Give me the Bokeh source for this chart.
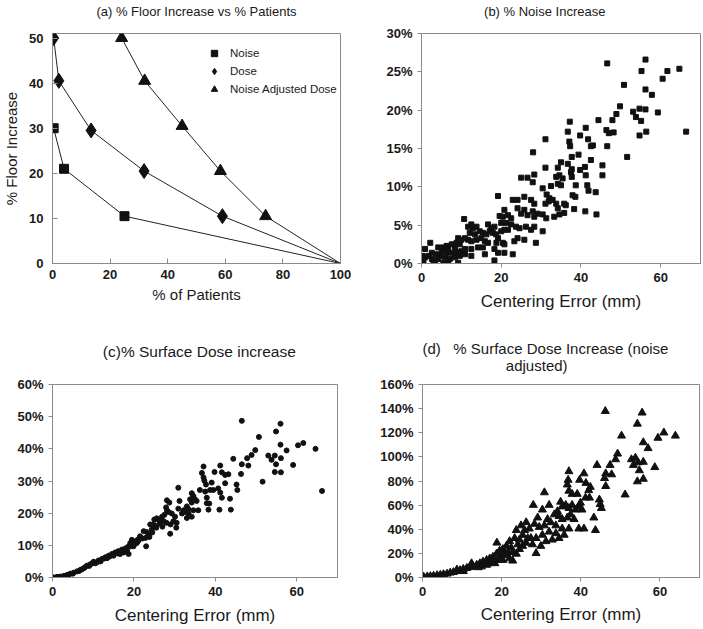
from bokeh.plotting import figure
from bokeh.layouts import column, row
from bokeh.models import (Range1d, FixedTicker, PrintfTickFormatter, Legend,
                          LegendItem, Title, LinearAxis)
from bokeh.embed import file_html
from bokeh.resources import INLINE

FONT = "Liberation Sans"
INK = "#111111"
FRAME = "#8a8a8a"
TXT = "#1a1a1a"
NB = "\u00a0"

# ---------------- (a) % Floor Increase vs % Patients ----------------
a_x_ticks = [0, 20, 40, 60, 80, 100]
a_y_ticks = [0, 10, 20, 30, 40, 50]
noise_pat = [0.4, 4.0, 25.0, 100]
noise_floor = [30.0, 21.0, 10.5, 0]
dose_pat = [0.4, 2.2, 13.4, 31.8, 59.0, 100]
dose_floor = [50.0, 40.5, 29.5, 20.5, 10.5, 0]
nad_pat = [24.0, 32.0, 45.0, 58.3, 74.0, 100]
nad_floor = [50.0, 40.5, 30.5, 20.5, 10.5, 0]

# ---------------- shared scatter axes ----------------
err_ticks = [0, 20, 40, 60]
b_y_ticks = [0, 5, 10, 15, 20, 25, 30]
c_y_ticks = [0, 10, 20, 30, 40, 50, 60]
d_y_ticks = [0, 20, 40, 60, 80, 100, 120, 140, 160]

# ---------------- (b) % Noise Increase ----------------
b_x = [46.6, 56.2, 55.2, 61.7, 64.7, 60.5, 50.8, 56.2, 57.8, 49.8,
       53.1, 54.7, 56.2, 53.8, 55.1, 59.3, 44.4, 37.2, 47.9, 48.9,
       41.2, 36.7, 46.4, 47.0, 48.2, 39.8, 41.8, 54.7, 56.4, 66.4,
       31.1, 37.1, 42.5, 43.0, 37.3, 46.6, 37.7, 39.4, 42.5, 51.6,
       31.1, 34.2, 35.0, 36.7, 37.7, 37.5, 39.8, 41.0, 45.4, 45.4,
       34.6, 35.4, 33.8, 34.2, 35.0, 37.7, 41.2, 38.7, 41.6, 41.9,
       43.7, 30.4, 32.5, 31.4, 32.1, 32.9, 31.9, 31.1, 33.8, 34.2,
       35.8, 36.2, 37.9, 38.6, 38.3, 41.1, 43.9, 33.3, 34.6, 35.8,
       30.4, 31.3,
       28.0, 26.6, 28.3, 25.0, 27.9, 19.2, 24.1, 22.9, 25.8, 27.5,
       28.3, 20.8, 19.6, 20.4, 21.7, 22.5, 24.1, 25.0, 25.8, 26.6,
       27.9, 28.3, 29.1, 10.7, 11.7, 12.5, 12.9, 13.8, 16.7, 17.5,
       18.3, 20.0, 21.2, 22.5, 23.7, 24.6, 26.2, 28.3, 12.1, 13.4,
       14.6, 15.4, 16.3, 17.1, 17.9, 18.7, 19.2, 20.0, 20.8, 21.7,
       24.1, 25.8, 9.2, 10.0, 10.9, 11.7, 12.5, 13.8, 15.0, 15.9,
       16.7, 18.8, 20.4, 23.3, 27.5, 30.4, 28.7, 8.8, 9.6, 7.6,
       8.4, 6.3, 6.7, 5.5, 4.2, 5.1, 6.3, 7.6, 8.8, 10.0,
       10.9, 12.5, 14.2, 15.4, 18.3, 20.8, 15.9, 19.2, 20.8, 22.9,
       18.3, 2.2, 0.9, 2.6, 3.8, 4.6, 1.8, 0.3, 0.9, 0.5,
       2.6, 3.4, 4.2, 5.9, 7.1, 8.4, 9.6, 10.9, 12.5, 3.0,
       5.5, 6.7, 9.2, 0.3]
b_y = [26.1, 26.6, 25.1, 25.1, 25.4, 24.1, 23.3, 22.7, 22.0, 20.5,
       19.8, 20.2, 20.1, 19.1, 18.6, 19.7, 18.7, 18.5, 18.7, 19.5,
       17.7, 17.2, 17.4, 17.0, 17.1, 16.7, 16.2, 16.7, 17.2, 17.2,
       16.2, 15.9, 15.3, 15.4, 15.3, 15.3, 13.9, 14.2, 13.5, 13.9,
       12.5, 12.5, 13.2, 13.0, 12.3, 11.9, 12.2, 12.6, 12.8, 11.5,
       11.5, 11.1, 11.3, 10.4, 10.2, 11.3, 11.5, 10.2, 10.2, 9.5,
       9.3, 9.8, 10.1, 9.0, 8.5, 8.3, 8.1, 7.8, 7.8, 7.2,
       7.8, 7.6, 8.9, 8.7, 7.1, 6.8, 6.4, 6.1, 6.4, 6.6,
       6.4, 5.9,
       14.5, 11.2, 11.6, 11.2, 10.6, 8.8, 8.3, 8.3, 8.7, 8.3,
       7.8, 7.0, 6.2, 6.1, 6.3, 5.9, 7.2, 6.5, 7.0, 6.3,
       6.8, 6.1, 6.5, 5.8, 4.8, 5.1, 4.6, 4.8, 5.1, 4.6,
       4.8, 5.3, 5.3, 5.1, 4.8, 4.6, 4.8, 4.8, 4.0, 3.8,
       4.2, 4.0, 3.8, 4.2, 4.0, 3.8, 3.3, 4.2, 4.4, 4.4,
       3.3, 3.1, 3.3, 3.1, 3.3, 3.1, 2.9, 3.1, 3.3, 2.9,
       2.7, 2.7, 2.7, 2.9, 4.4, 4.2, 2.7, 2.7, 2.5, 2.5,
       2.1, 2.3, 1.9, 2.1, 2.1, 1.6, 1.4, 1.4, 1.5, 1.6,
       1.9, 1.9, 2.1, 2.1, 1.9, 2.5, 1.2, 1.4, 1.4, 1.2,
       0.4, 2.7, 1.9, 1.4, 1.2, 1.0, 1.0, 1.0, 0.8, 0.4,
       0.6, 0.4, 0.6, 0.8, 0.6, 0.8, 1.0, 1.2, 1.0, 0.1,
       0.1, 0.1, 0.1, 0.6]

# ---------------- (c) % Surface Dose increase ----------------
c_x = [46.5, 56.0, 54.9, 50.7, 60.3, 61.6, 64.6, 56.0, 57.5, 49.8,
       48.9, 47.8, 44.4, 53.0, 53.8, 54.6, 56.1, 54.9, 59.1, 46.5,
       48.1, 46.3, 37.1, 41.2, 41.6, 42.4, 43.2, 39.8, 36.7, 37.1,
       37.3, 37.7, 39.1, 42.4, 45.2, 45.4, 54.6, 56.1, 51.6, 66.2,
       30.9, 36.2, 37.5, 38.7, 39.5, 40.7, 41.2, 41.6, 43.6, 34.2,
       34.6, 35.0, 33.8, 34.2, 35.4, 37.9, 37.9, 38.5, 31.2, 33.0,
       33.4, 34.6, 35.8, 38.3, 41.0, 43.8, 32.2, 32.6, 30.9, 30.1,
       29.7, 30.5, 29.3, 28.9, 30.4, 31.8, 33.4, 34.2, 33.0,
       28.1, 27.9, 25.6, 25.0, 26.9, 27.3, 24.0, 24.4, 23.2, 22.4,
       21.5, 22.8, 23.6, 20.9, 20.3, 19.5, 19.1, 19.9, 23.0, 18.7,
       17.9, 17.1, 16.2, 16.6, 15.4, 14.6, 13.8, 13.0, 12.2, 11.3,
       10.9, 10.1, 9.3, 8.5, 7.7, 6.9, 6.0, 5.2, 4.4, 3.6,
       2.8, 2.0, 1.1, 0.3, 0.0, 15.0, 13.4, 11.8, 9.7, 18.7,
       18.3, 17.5, 20.7, 22.0, 24.8, 26.0, 28.5, 28.7, 28.1,
       1.5, 3.0, 4.0, 5.0, 6.5, 7.2, 8.0, 9.0, 10.5, 11.8,
       12.7, 14.0, 14.8, 16.0, 17.0, 18.0, 19.0, 20.0, 21.0, 21.2,
       24.5, 25.5, 26.3, 27.0, 26.5, 28.0, 29.0, 27.5, 25.3, 23.8]
c_y = [48.7, 47.8, 45.4, 43.7, 41.1, 41.8, 40.0, 41.3, 39.5, 39.6,
       38.1, 37.1, 36.9, 37.9, 36.6, 37.9, 37.1, 35.2, 35.0, 35.2,
       34.8, 32.2, 34.5, 34.8, 32.7, 31.9, 32.1, 32.8, 32.5, 31.1,
       30.1, 28.9, 29.5, 29.3, 28.9, 27.2, 32.8, 32.7, 29.8, 26.9,
       27.9, 27.2, 26.7, 27.2, 27.2, 27.7, 26.4, 24.8, 24.5, 26.2,
       25.3, 24.3, 24.3, 23.3, 23.8, 24.8, 23.1, 23.0, 23.8, 22.1,
       21.2, 20.9, 20.9, 21.1, 21.1, 21.1, 20.9, 20.4, 21.4, 18.9,
       17.5, 17.0, 19.9, 13.6, 15.5, 19.9, 19.9, 18.9, 18.5,
       24.0, 21.8, 18.4, 18.0, 18.9, 17.5, 16.5, 15.0, 14.1, 14.4,
       12.8, 12.3, 13.1, 11.7, 11.2, 11.7, 10.7, 9.7, 9.7, 9.7,
       8.9, 8.7, 8.2, 7.3, 7.8, 7.3, 6.8, 6.3, 5.8, 5.3,
       4.7, 4.9, 4.1, 3.7, 2.9, 2.4, 1.9, 1.5, 1.2, 0.8,
       0.5, 0.3, 0.2, 0.0, 0.0, 6.8, 6.0, 5.3, 4.4, 7.3,
       8.2, 7.8, 10.7, 12.1, 16.5, 18.0, 20.4, 23.3, 20.9,
       0.1, 0.4, 0.9, 1.2, 2.0, 2.5, 3.2, 3.6, 4.4, 5.0,
       5.9, 6.5, 7.0, 7.5, 8.0, 9.1, 9.6, 10.2, 11.3, 12.0,
       14.0, 15.5, 16.8, 15.8, 17.8, 17.0, 16.5, 19.5, 16.0, 12.6]

# ---------------- (d) % Surface Dose Increase (noise adjusted) ----------------
d_x = [46.2, 55.5, 54.3, 50.3, 61.0, 59.5, 63.9, 55.8, 57.0, 49.3,
       48.8, 47.4, 44.1, 46.3, 47.8, 46.0, 52.8, 53.8, 53.3, 54.5,
       55.8, 54.8, 54.3, 55.8, 58.7, 51.2, 46.3, 37.0, 40.8, 39.7,
       41.3, 42.4, 42.0, 36.8, 36.6, 37.0, 37.8, 39.1, 41.2, 42.2,
       44.7, 44.9, 45.2, 30.8, 28.0, 30.3, 32.0, 34.9, 35.3, 36.2,
       37.0, 37.8, 38.7, 39.5, 40.3, 39.9, 43.3, 34.1, 33.3, 34.5,
       35.3, 36.6, 37.4, 38.3, 39.5, 40.8, 43.7, 31.6, 32.4, 29.1,
       28.3, 29.5, 30.8, 33.7, 35.3, 37.0, 32.0, 33.7, 35.8, 30.3,
       28.7, 29.9, 27.8, 28.7, 27.0, 27.4, 31.2, 32.8, 34.5,
       18.8, 22.8, 20.8, 24.9, 26.2, 23.7, 25.3, 24.5, 23.3, 22.0,
       21.2, 22.4, 20.3, 19.5, 21.6, 18.7, 19.9, 17.8, 17.0, 19.1,
       16.2, 15.3, 14.5, 13.7, 12.8, 12.0, 11.2, 10.3, 9.5, 8.7,
       7.8, 7.0, 6.2, 5.3, 4.5, 3.7, 2.8, 2.0, 1.2, 0.3,
       0.0, 16.2, 17.4, 14.9, 12.4, 18.3, 20.3, 22.0, 23.7, 24.5,
       25.3, 26.2, 26.6, 25.8, 24.1, 22.8, 21.2, 19.5, 16.6, 14.1,
       10.3, 8.7]
d_y = [137.9, 136.6, 127.4, 117.5, 120.1, 115.7, 117.5, 112.0, 107.1, 102.6,
       97.9, 93.2, 93.2, 86.2, 85.4, 82.3, 97.9, 99.2, 93.2, 95.3,
       95.8, 88.8, 79.6, 81.7, 91.4, 68.7, 75.7, 88.0, 86.2, 80.9,
       78.3, 75.0, 72.3, 80.9, 77.0, 71.8, 69.2, 69.2, 66.1, 66.1,
       64.5, 60.8, 57.5, 70.5, 60.1, 56.2, 60.1, 62.7, 58.8, 60.1,
       57.5, 60.1, 56.2, 58.8, 56.2, 61.9, 49.6, 54.9, 52.2, 50.9,
       48.3, 49.6, 52.2, 48.3, 40.5, 40.5, 39.2, 48.3, 45.7, 49.6,
       44.4, 41.8, 43.1, 43.1, 40.5, 40.5, 37.9, 36.6, 35.3, 35.3,
       32.6, 26.1, 27.4, 20.1, 40.5, 32.6, 30.0, 31.3, 32.6,
       28.8, 13.9, 19.6, 43.1, 45.7, 39.2, 35.2, 31.3, 32.6, 30.0,
       26.1, 24.8, 23.5, 22.2, 20.9, 19.6, 18.3, 17.0, 15.7, 14.9,
       14.4, 13.1, 11.7, 10.4, 9.1, 8.6, 7.8, 7.0, 6.0, 5.2,
       4.4, 3.9, 3.1, 2.6, 2.1, 1.8, 1.3, 1.0, 0.8, 0.5,
       0.3, 10.4, 13.1, 9.1, 11.7, 11.7, 14.4, 15.7, 19.6, 23.5,
       26.1, 28.7, 32.6, 39.2, 27.4, 20.9, 18.3, 14.4, 11.7, 8.4,
       5.2, 6.5]


def make_fig(w, h, xr, yr, bl, br, bt, bb):
    p = figure(width=w, height=h, x_range=Range1d(*xr), y_range=Range1d(*yr),
               output_backend="svg", toolbar_location=None, tools="", title=None,
               min_border_left=bl, min_border_right=br,
               min_border_top=bt, min_border_bottom=bb)
    p.xgrid.visible = False
    p.ygrid.visible = False
    p.outline_line_color = FRAME
    p.outline_line_width = 1
    p.background_fill_color = "white"
    p.border_fill_color = "white"
    xa = p.below[0]
    ya = p.left[0]
    for ax in (xa, ya):
        ax.axis_line_color = FRAME
        ax.major_tick_line_color = FRAME
        ax.minor_tick_line_color = None
        ax.major_tick_in = 0
        ax.major_tick_out = 4
        ax.major_label_text_font = FONT
        ax.major_label_text_font_size = "13px"
        ax.major_label_text_font_style = "bold"
        ax.major_label_text_color = TXT
        ax.axis_label_text_font = FONT
        ax.axis_label_text_font_style = "normal"
        ax.axis_label_text_color = TXT
    return p, xa, ya


def add_top_title(p, text, size, standoff):
    # a tick-less axis above the frame carries the panel heading
    ax = LinearAxis(ticker=FixedTicker(ticks=[]), axis_label=text,
                    axis_label_text_font=FONT, axis_label_text_font_size=size,
                    axis_label_text_font_style="normal",
                    axis_label_text_color=TXT, axis_label_standoff=standoff,
                    axis_line_color=None, major_tick_line_color=None,
                    minor_tick_line_color=None, major_tick_in=0,
                    major_tick_out=0, major_label_standoff=0)
    p.add_layout(ax, "above")


def add_title(p, text, offset, size, standoff):
    t = Title(text=text, align="left", offset=offset, text_font=FONT,
              text_font_size=size, text_font_style="normal", text_color=TXT,
              standoff=standoff)
    p.add_layout(t, "above")


# ---------- panel a ----------  frame: x 51..340, y 31..263
pa, pax, pay = make_fig(353, 318, (0, 100), (0, 51), 51, 13, 31, 55)
add_top_title(pa, "(a) % Floor Increase vs % Patients", "13px", 15)
pax.ticker = FixedTicker(ticks=a_x_ticks)
pay.ticker = FixedTicker(ticks=a_y_ticks)
for ax in (pax, pay):
    ax.major_tick_in = 5
    ax.major_tick_out = 0
pax.major_label_standoff = 6
pay.major_label_standoff = 9
pax.axis_label = "% of Patients"
pay.axis_label = "% Floor Increase"
pax.axis_label_text_font_size = "15px"
pay.axis_label_text_font_size = "15px"
pax.axis_label_standoff = 4
pay.axis_label_standoff = 6

pa.line(noise_pat, noise_floor, line_color="#222222", line_width=1)
pa.line(dose_pat, dose_floor, line_color="#222222", line_width=1)
pa.line(nad_pat, nad_floor, line_color="#222222", line_width=1)
r_noise = pa.scatter(noise_pat[:-1], noise_floor[:-1], marker="square", size=9,
                     fill_color=INK, line_color=INK)
r_dose = pa.scatter(dose_pat[:-1], dose_floor[:-1], marker="diamond", size=15,
                    fill_color=INK, line_color=INK)
r_nad = pa.scatter(nad_pat[:-1], nad_floor[:-1], marker="triangle", size=12,
                   fill_color=INK, line_color=INK)
leg = Legend(items=[LegendItem(label="Noise", renderers=[r_noise]),
                    LegendItem(label="Dose", renderers=[r_dose]),
                    LegendItem(label="Noise Adjusted Dose", renderers=[r_nad])],
             location=(154, 166), padding=0, spacing=2, margin=0,
             label_standoff=8, glyph_width=16, glyph_height=16, label_height=16,
             border_line_color=None, background_fill_alpha=0,
             label_text_font=FONT, label_text_font_size="11.5px",
             label_text_color=TXT)
pa.add_layout(leg)

# ---------- panel b ----------  frame: x 421..700, y 32..266
pb, pbx, pby = make_fig(349, 318, (0, 70), (0, 30), 68, 2, 32, 52)
add_top_title(pb, "(b) % Noise Increase" + NB * 9, "13px", 15)
pbx.ticker = FixedTicker(ticks=err_ticks)
pby.ticker = FixedTicker(ticks=b_y_ticks)
pby.formatter = PrintfTickFormatter(format="%d%%")
pbx.axis_label = "Centering Error (mm)"
pbx.axis_label_text_font_size = "17px"
pbx.axis_label_standoff = 7
pb.scatter(b_x, b_y, marker="square", size=5, fill_color=INK, line_color=INK)

# ---------- panel c ----------  frame: x 52..337, y 380..577
pc, pcx, pcy = make_fig(353, 310, (0, 70), (0, 60), 52, 16, 62, 51)
add_top_title(pc, NB * 2 + "(c)% Surface Dose increase", "15.5px", 25)
pcx.ticker = FixedTicker(ticks=err_ticks)
pcy.ticker = FixedTicker(ticks=c_y_ticks)
pcy.formatter = PrintfTickFormatter(format="%d%%")
pcx.axis_label = "Centering Error (mm)"
pcx.axis_label_text_font_size = "17px"
pcx.axis_label_standoff = 7
pc.scatter(c_x, c_y, marker="circle", size=5, fill_color=INK, line_color=INK)

# ---------- panel d ----------  frame: x 422..699, y 384..578
pd_, pdx, pdy = make_fig(349, 310, (0, 70), (0, 160), 69, 3, 66, 50)
d_title = ("(d)" + NB * 3 + "% Surface Dose Increase (noise\n"
           + NB * 20 + "adjusted)")
add_title(pd_, d_title, 0, "15px", 22)
pdx.ticker = FixedTicker(ticks=err_ticks)
pdy.ticker = FixedTicker(ticks=d_y_ticks)
pdy.formatter = PrintfTickFormatter(format="%d%%")
pdx.axis_label = "Centering Error (mm)"
pdx.axis_label_text_font_size = "17px"
pdx.axis_label_standoff = 6
pd_.scatter(d_x, d_y, marker="triangle", size=8, fill_color=INK, line_color=INK)

layout = column(row(pa, pb), row(pc, pd_))

open("out.html", "w").write(file_html(layout, INLINE))
